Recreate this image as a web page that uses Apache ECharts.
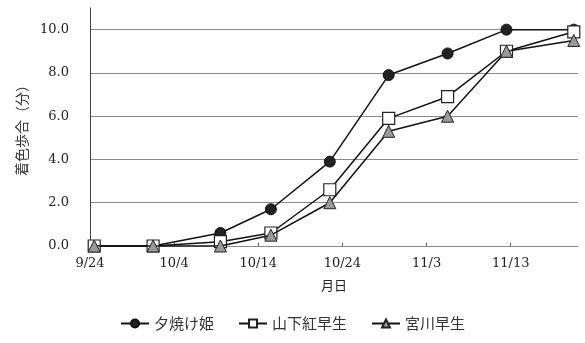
<!DOCTYPE html>
<html>
<head>
<meta charset="utf-8">
<script src="https://cdn.jsdelivr.net/npm/echarts@6/dist/echarts.min.js"></script>
<style>
  html, body { margin: 0; padding: 0; background: #fff; }
  #chart { width: 585px; height: 343px; }
</style>
</head>
<body>
<div id="chart"></div>
<script>
// Survey dates (month/day) and colouring scores for three cultivars
const surveyDates = ['9/24', '10/1', '10/9', '10/15', '10/22', '10/29', '11/5', '11/12', '11/20'];
const yuyakehime = [0, 0, 0.6, 1.7, 3.9, 7.9, 8.9, 10.0, 10.0];
const yamashitabeni = [0, 0, 0.2, 0.6, 2.6, 5.9, 6.9, 9.0, 9.9];
const miyagawa = [0, 0, 0, 0.5, 2.0, 5.3, 6.0, 9.0, 9.5];
const xTickLabels = ['9/24', '10/4', '10/14', '10/24', '11/3', '11/13'];
const seriesNames = ['夕焼け姫', '山下紅早生', '宮川早生'];

// Days elapsed since 9/24
function dayOf(s) {
  const [m, d] = s.split('/').map(Number);
  if (m === 9) return d - 24;
  if (m === 10) return d + 6;
  return d + 37;
}
// Each survey day is plotted at the centre of its day cell
const xs = surveyDates.map(s => dayOf(s) + 0.5);
const pairs = vals => vals.map((v, i) => [xs[i], v]);

const numFont = '"DejaVu Serif", "Liberation Serif", serif';
const jpFont = '"Noto Sans CJK JP", sans-serif';

const chart = echarts.init(document.getElementById('chart'));
chart.setOption({
  animation: false,
  backgroundColor: '#fff',
  grid: { left: 90, right: 7, top: 8, bottom: 97 },
  xAxis: {
    type: 'value',
    min: 0,
    max: dayOf('11/21'),
    interval: 10,
    name: '月日',
    nameLocation: 'middle',
    nameGap: 33,
    nameTextStyle: { fontFamily: jpFont, fontSize: 13, color: '#222' },
    axisLine: { lineStyle: { color: '#888', width: 1 } },
    axisTick: { show: true, inside: true, length: 3, lineStyle: { color: '#666' } },
    axisLabel: {
      margin: 11,
      fontFamily: numFont,
      fontSize: 13,
      color: '#222',
      showMaxLabel: false,
      formatter: v => xTickLabels[Math.round(v / 10)] || ''
    },
    splitLine: { show: false }
  },
  yAxis: {
    type: 'value',
    min: 0,
    max: 11,
    interval: 2,
    name: '着色歩合（分）',
    nameLocation: 'middle',
    nameRotate: 90,
    nameGap: 58,
    nameTextStyle: { fontFamily: jpFont, fontSize: 14, color: '#333' },
    axisLine: { show: true, lineStyle: { color: '#444', width: 1 } },
    axisTick: { show: false },
    axisLabel: {
      margin: 21,
      fontFamily: numFont,
      fontSize: 13,
      color: '#222',
      showMaxLabel: false,
      formatter: v => v.toFixed(1)
    },
    splitLine: { show: true, showMaxLine: false, lineStyle: { color: '#8a8a8a', width: 1 } }
  },
  legend: {
    bottom: 7,
    left: 'center',
    itemWidth: 28,
    itemHeight: 10,
    itemGap: 24,
    textStyle: { fontFamily: jpFont, fontSize: 15, color: '#333' },
    data: seriesNames
  },
  series: [
    {
      name: seriesNames[0],
      type: 'line',
      data: pairs(yuyakehime),
      symbol: 'circle',
      symbolSize: 11,
      z: 3,
      lineStyle: { color: '#111', width: 1.5 },
      itemStyle: { color: '#222', borderColor: '#111', borderWidth: 1 }
    },
    {
      name: seriesNames[1],
      type: 'line',
      data: pairs(yamashitabeni),
      symbol: 'rect',
      symbolSize: 12,
      z: 4,
      lineStyle: { color: '#111', width: 1.5 },
      itemStyle: { color: '#fff', borderColor: '#222', borderWidth: 1.2 }
    },
    {
      name: seriesNames[2],
      type: 'line',
      data: pairs(miyagawa),
      symbol: 'triangle',
      symbolSize: 12,
      z: 5,
      lineStyle: { color: '#111', width: 1.5 },
      itemStyle: { color: '#999', borderColor: '#222', borderWidth: 1 }
    }
  ]
});
</script>
</body>
</html>
